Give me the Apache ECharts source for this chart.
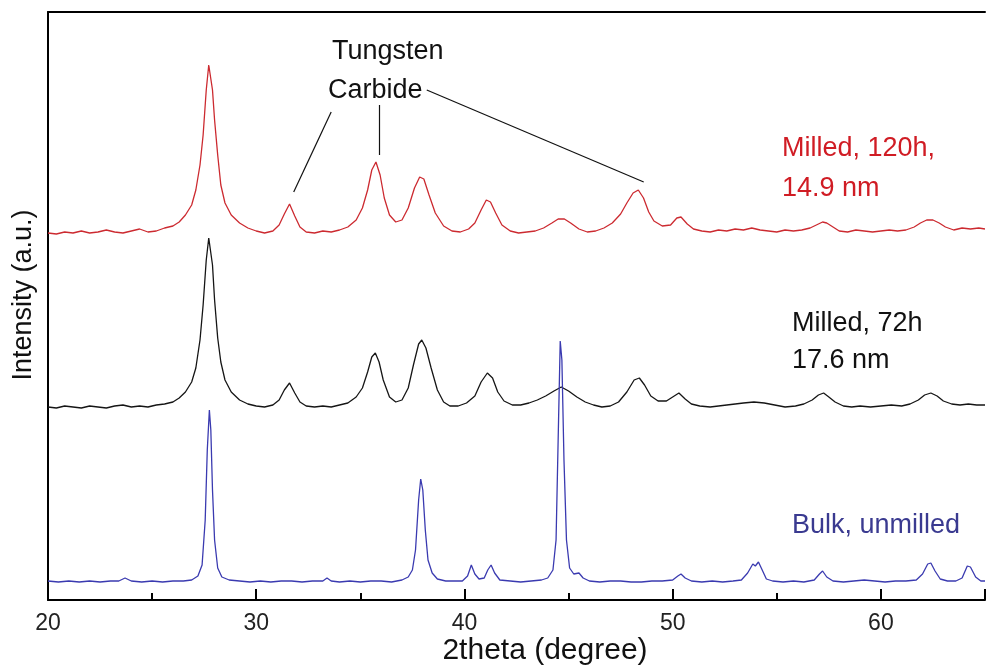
<!DOCTYPE html>
<html><head><meta charset="utf-8">
<script src="https://cdn.jsdelivr.net/npm/echarts@6/dist/echarts.min.js"></script>
<style>html,body{margin:0;padding:0;background:#fff}#c{width:988px;height:665px}</style>
</head><body><div id="c"></div>
<script>
// 2theta (degree) and intensity (a.u., stacked with offsets)
const redX = [20.0,20.4,20.8,21.2,21.6,22.0,22.4,22.8,23.2,23.6,24.0,24.4,24.8,25.2,25.6,26.0,26.3,26.6,26.9,27.1,27.3,27.45,27.6,27.72,27.8,27.9,28.0,28.15,28.3,28.5,28.8,29.2,29.6,30.0,30.4,30.8,31.1,31.35,31.6,31.85,32.1,32.4,32.8,33.2,33.6,34.0,34.4,34.8,35.1,35.35,35.55,35.75,35.95,36.15,36.4,36.7,37.0,37.3,37.6,37.85,38.05,38.3,38.6,39.0,39.4,39.8,40.2,40.5,40.8,41.05,41.25,41.5,41.8,42.2,42.6,43.0,43.4,43.8,44.2,44.5,44.8,45.1,45.5,45.9,46.3,46.7,47.1,47.5,47.8,48.1,48.35,48.6,48.85,49.1,49.5,49.9,50.2,50.4,50.7,51.0,51.4,51.8,52.2,52.6,53.0,53.4,53.8,54.2,54.6,55.0,55.4,55.8,56.2,56.6,56.9,57.2,57.4,57.7,58.0,58.4,58.8,59.2,59.6,60.0,60.4,60.8,61.2,61.6,61.9,62.2,62.5,62.8,63.1,63.5,63.9,64.3,64.7,65.0];
const redY = [367,366,368,367,369,367,368,370,368,367,369,371,368,369,372,374,378,385,395,410,435,465,510,535,533,510,480,445,415,397,385,377,372,369,367,369,375,386,396,384,373,368,367,369,368,370,373,380,392,410,430,438,425,402,385,378,380,392,412,423,421,405,387,374,369,368,371,377,390,400,398,387,375,369,367,368,369,372,377,381,381,377,371,368,369,372,377,386,397,407,410,402,388,379,374,375,382,383,376,371,369,368,370,369,371,370,372,370,369,368,370,369,370,372,375,378,377,373,369,368,370,369,368,369,370,369,370,373,377,380,380,377,373,370,372,371,372,371];

const blackX = [20.0,20.4,20.8,21.2,21.6,22.0,22.4,22.8,23.2,23.6,24.0,24.4,24.8,25.2,25.6,26.0,26.3,26.6,26.9,27.1,27.3,27.45,27.6,27.72,27.8,27.9,28.0,28.15,28.3,28.5,28.8,29.2,29.6,30.0,30.4,30.8,31.1,31.35,31.6,31.85,32.1,32.4,32.8,33.2,33.6,34.0,34.4,34.8,35.1,35.35,35.55,35.72,35.9,36.1,36.4,36.7,37.0,37.3,37.55,37.8,37.95,38.15,38.4,38.7,39.0,39.3,39.7,40.1,40.5,40.8,41.1,41.35,41.6,41.9,42.3,42.7,43.1,43.5,43.9,44.3,44.65,45.0,45.4,45.8,46.2,46.6,47.0,47.4,47.8,48.15,48.4,48.65,48.95,49.3,49.7,50.0,50.3,50.6,50.9,51.3,51.8,52.2,52.6,53.0,53.4,53.9,54.4,54.9,55.4,55.9,56.3,56.7,57.0,57.25,57.5,57.8,58.2,58.6,59.0,59.5,60.0,60.5,61.0,61.4,61.8,62.1,62.4,62.7,63.0,63.4,63.8,64.2,64.6,65.0];
const blackY = [193,192,194,193,192,194,193,192,194,195,193,194,193,195,196,198,202,208,218,232,260,295,340,362,360,335,300,262,238,220,208,200,196,194,193,195,200,210,217,207,198,194,193,194,193,195,197,203,212,228,243,247,238,220,203,198,200,212,235,256,260,252,232,210,198,194,194,197,204,218,227,222,208,199,195,195,197,200,204,209,213,209,203,198,195,193,194,198,208,220,222,215,204,199,199,203,207,201,196,194,193,194,195,196,197,198,197,195,193,194,196,200,205,207,203,198,194,193,194,193,194,195,194,196,200,205,207,204,199,196,195,196,195,195];

const blueX = [20.0,20.5,21.0,21.5,22.0,22.5,23.0,23.4,23.7,24.0,24.5,25.0,25.5,26.0,26.5,26.9,27.2,27.4,27.55,27.65,27.75,27.82,27.9,28.0,28.15,28.35,28.7,29.2,29.7,30.2,30.7,31.2,31.7,32.2,32.7,33.2,33.4,33.6,34.0,34.5,35.0,35.5,36.0,36.5,37.0,37.3,37.5,37.65,37.8,37.9,38.0,38.12,38.25,38.45,38.7,39.1,39.5,39.9,40.15,40.33,40.5,40.7,40.95,41.12,41.28,41.45,41.7,42.2,42.7,43.2,43.7,44.0,44.25,44.4,44.52,44.6,44.68,44.78,44.9,45.05,45.25,45.5,45.7,46.0,46.5,47.0,47.5,48.0,48.5,49.0,49.5,50.0,50.25,50.4,50.6,50.9,51.4,51.9,52.4,52.9,53.3,53.6,53.85,53.97,54.12,54.3,54.5,54.8,55.3,55.8,56.3,56.8,57.05,57.2,57.4,57.7,58.2,58.7,59.2,59.7,60.2,60.7,61.2,61.7,62.0,62.25,62.4,62.6,62.85,63.2,63.6,63.9,64.15,64.3,64.55,64.8,65.0];
const blueY = [19,18,19,18,19,18,19,19,22,19,18,19,18,19,19,20,24,35,80,150,190,170,110,60,32,23,20,19,18,19,18,19,19,18,19,19,22,19,18,19,18,19,19,18,20,23,30,50,100,121,110,70,40,27,21,19,19,19,24,35,26,21,22,30,35,27,20,19,18,19,20,22,30,60,180,259,240,140,60,32,26,27,22,19,18,19,19,18,18,19,19,20,24,26,22,19,18,19,18,19,20,27,36,34,38,30,21,19,18,19,18,20,26,29,23,19,18,19,20,19,18,19,19,20,26,36,37,29,21,19,19,22,34,33,23,19,19];

const xTicks = [20, 30, 40, 50, 60];
// leader lines for "Tungsten Carbide" (from label to peak), in data units
const wcLeaders = [
  [[33.6, 488], [31.8, 408]],
  [[35.92, 495], [35.92, 445]],
  [[38.19, 510], [48.61, 418]]
];

const zip = (xs, ys) => xs.map((x, i) => [x, ys[i]]).filter(p => p[1] !== undefined);
const FONT = '"Liberation Sans", Arial, sans-serif';

const chart = echarts.init(document.getElementById('c'), null, {renderer: 'canvas'});
const mkSeries = (name, xs, ys, color) => ({
  name, type: 'line', data: zip(xs, ys), showSymbol: false, symbol: 'none',
  lineStyle: {color, width: 1.3}, animation: false, silent: true, z: 3
});
const redS = mkSeries('Milled, 120h', redX, redY, '#cc2a30');
redS.markLine = {
  silent: true, symbol: ['none', 'none'], animation: false,
  lineStyle: {color: '#111', width: 1.2, type: 'solid'},
  label: {show: false},
  data: wcLeaders.map(l => [{coord: l[0]}, {coord: l[1]}])
};

chart.setOption({
  backgroundColor: '#fff',
  animation: false,
  grid: {left: 48, right: -10, top: 12, bottom: 65, containLabel: false},
  xAxis: [{
    type: 'value', min: 20, max: 65, interval: 10,
    axisLine: {show: true, lineStyle: {color: '#000', width: 2}},
    axisTick: {show: true, inside: true, length: 11, lineStyle: {color: '#000', width: 2}},
    minorTick: {show: true, splitNumber: 2, length: 7, lineStyle: {color: '#000', width: 2}},
    axisLabel: {show: true, margin: 12, fontSize: 23, color: '#222', fontFamily: FONT,
      formatter: v => xTicks.includes(v) ? String(v) : ''},
    splitLine: {show: false}
  }, {
    type: 'value', min: 20, max: 65, position: 'top',
    axisLine: {show: true, lineStyle: {color: '#000', width: 2}},
    axisTick: {show: false}, axisLabel: {show: false}, splitLine: {show: false}
  }],
  yAxis: {
    type: 'value', min: 0, max: 588,
    axisLine: {show: true, lineStyle: {color: '#000', width: 2}},
    axisTick: {show: false}, axisLabel: {show: false}, splitLine: {show: false}
  },
  series: [
    redS,
    mkSeries('Milled, 72h', blackX, blackY, '#151515'),
    mkSeries('Bulk, unmilled', blueX, blueY, '#3a3ab0')
  ],
  graphic: [
    {type: 'text', x: 545, y: 651, style: {text: '2theta (degree)', font: '30px ' + FONT, fill: '#111', textAlign: 'center', textVerticalAlign: 'middle'}},
    {type: 'text', x: 24, y: 295, rotation: Math.PI / 2, style: {text: 'Intensity (a.u.)', font: '27px ' + FONT, fill: '#111', textAlign: 'center', textVerticalAlign: 'middle'}},
    {type: 'text', x: 332, y: 52, style: {text: 'Tungsten', font: '27px ' + FONT, fill: '#111', textAlign: 'left', textVerticalAlign: 'middle'}},
    {type: 'text', x: 328, y: 91, style: {text: 'Carbide', font: '27px ' + FONT, fill: '#111', textAlign: 'left', textVerticalAlign: 'middle'}},
    {type: 'text', x: 782, y: 149, style: {text: 'Milled, 120h,', font: '27px ' + FONT, fill: '#d01c24', textAlign: 'left', textVerticalAlign: 'middle'}},
    {type: 'text', x: 782, y: 189, style: {text: '14.9 nm', font: '27px ' + FONT, fill: '#d01c24', textAlign: 'left', textVerticalAlign: 'middle'}},
    {type: 'text', x: 792, y: 324, style: {text: 'Milled, 72h', font: '27px ' + FONT, fill: '#111', textAlign: 'left', textVerticalAlign: 'middle'}},
    {type: 'text', x: 792, y: 361, style: {text: '17.6 nm', font: '27px ' + FONT, fill: '#111', textAlign: 'left', textVerticalAlign: 'middle'}},
    {type: 'text', x: 792, y: 526, style: {text: 'Bulk, unmilled', font: '27px ' + FONT, fill: '#3a3a90', textAlign: 'left', textVerticalAlign: 'middle'}}
  ]
});
</script>
</body></html>
